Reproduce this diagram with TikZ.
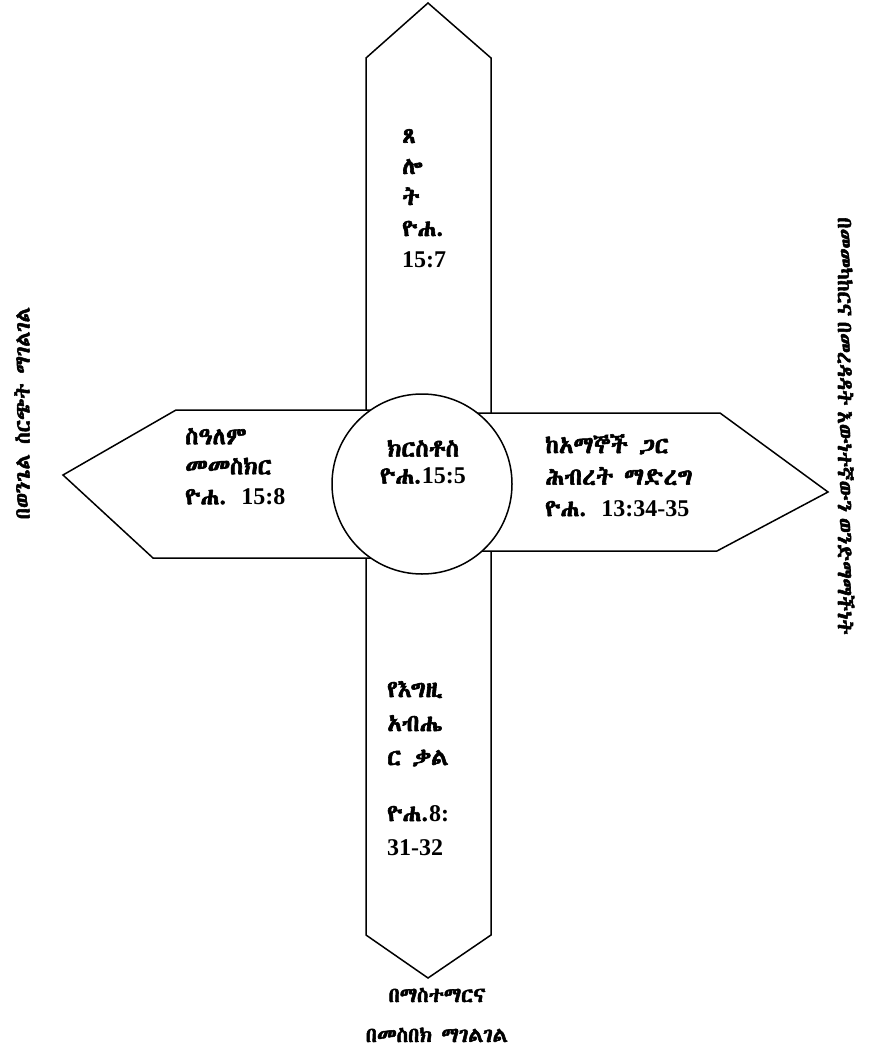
\documentclass[tikz,border=0pt]{standalone}
\usepackage{fontspec}
\setmainfont{Liberation Serif}
\IfFontExistsTF{Abyssinica SIL}{\newfontfamily\eth{Abyssinica SIL}[AutoFakeBold=2.5]}{%
 \IfFontExistsTF{FreeSerif}{\newfontfamily\eth{FreeSerif}[AutoFakeBold=2.5]}{%
  \IfFontExistsTF{FreeSans}{\newfontfamily\eth{FreeSans}[AutoFakeBold=2.5]}{%
   \newfontfamily\eth{DejaVu Sans}}}}
\newcommand\nm[1]{{\rmfamily\bfseries #1}}
\begin{document}
\begin{tikzpicture}[x=1pt,y=-1pt,
  box/.style={draw, line width=1.5pt, fill=white, line join=miter},
  lbl/.style={font=\eth\bfseries\fontsize{24}{30}\selectfont, align=left, inner sep=0pt},
  rim/.style={font=\eth\bfseries\fontsize{21}{40}\selectfont, align=center, inner sep=0pt}]
\useasboundingbox (0,0) rectangle (873,1062);
% bars
\draw[box] (366,480) -- (366,58) -- (428,3) -- (491,58) -- (491,480);
\draw[box] (366,480) -- (366,935) -- (428,978) -- (491,935) -- (491,480);
\draw[box] (427,410) -- (176,410) -- (63,475) -- (153,558) -- (427,558);
\draw[box] (427,413) -- (720,413) -- (828,492) -- (717,551) -- (427,551);
% centre circle
\node[box, circle, minimum size=180pt, inner sep=0pt] (c) at (422,484) {};
\node[lbl, align=center] (ct) at (423,462) {ክርስቶስ\\[-3pt]ዮሐ.\nm{15:5}};
% top
\node[lbl, anchor=north west, font=\eth\bfseries\fontsize{24}{31}\selectfont] (t) at (402,129) {ጸ\\ሎ\\ት\\ዮሐ.\\\nm{15:7}};
% left
\node[lbl, anchor=north west] (l) at (185,428) {ስዓለም\\መመስክር\\ዮሐ. \nm{15:8}};
% right
\node[lbl, anchor=north west, font=\eth\bfseries\fontsize{24}{31.5}\selectfont] (r) at (545,434) {ከአማኞች ጋር\\ሕብረት ማድረግ\\ዮሐ. \nm{13:34-35}};
% bottom
\node[lbl, anchor=north west, font=\eth\bfseries\fontsize{24}{34}\selectfont] (b) at (387,681) {የእግዚ\\አብሔ\\ር ቃል\\[22pt]ዮሐ.\nm{8:}\\\nm{31-32}};
% rim texts
\node[rim] (bt) at (437,1015) {በማስተማርና\\በመስበክ ማገልገል};
\node[rim, rotate=90] (lt) at (22,413) {በወንጌል\hspace{10pt}ስርጭት\hspace{10pt}ማገልገል};
\node[rim, rotate=-90] (rt) at (846,426) {በመመካከርና\hspace{6pt}በመረዳዳት\hspace{6pt}እውነተኛውን\hspace{6pt}ወንድማማችነት};
\end{tikzpicture}
\end{document}
